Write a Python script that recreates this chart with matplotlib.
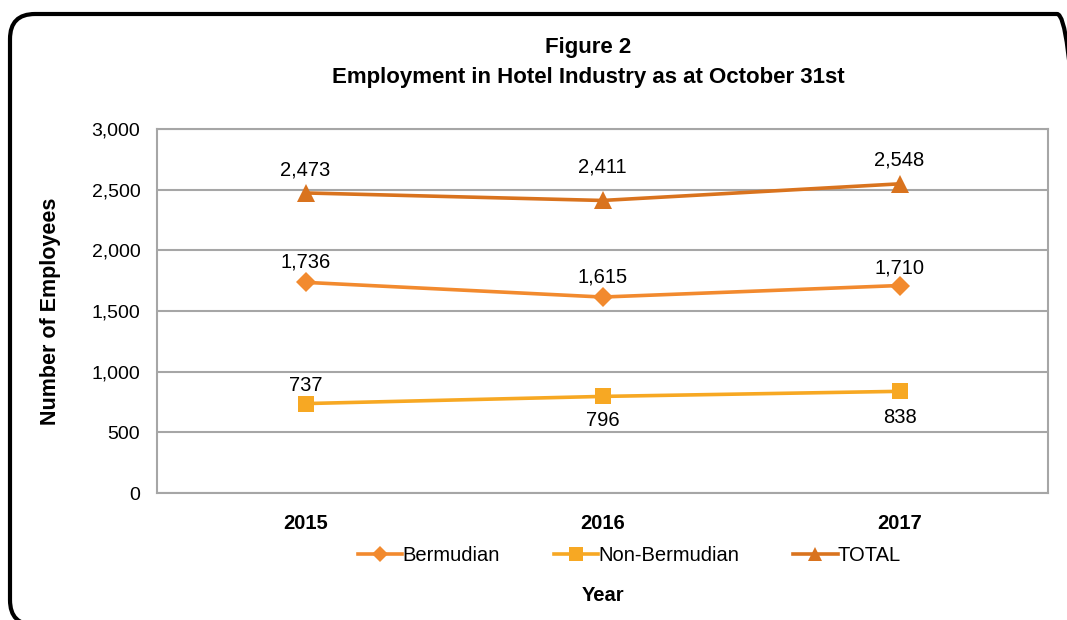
import numpy as np
import matplotlib.pyplot as plt
from matplotlib.patches import FancyBboxPatch

plt.rcParams['font.family'] = ['Liberation Sans', 'DejaVu Sans']

years = ["2015", "2016", "2017"]
bermudian = [1736, 1615, 1710]
non_bermudian = [737, 796, 838]
total = [2473, 2411, 2548]

series_names = ["Bermudian", "Non-Bermudian", "TOTAL"]
series_colors = ["#F28A2E", "#F7A823", "#D9731E"]
series_markers = ["D", "s", "^"]
series_sizes = [10, 11.5, 12.5]
# data label offsets in points (positive = above the point, negative = below)
label_offsets = [[8, 7.5, 5.5], [6, -10.5, -12], [10, 17, 10]]


def main():
    fig = plt.figure(figsize=(10.67, 6.2), dpi=100)

    # rounded frame around the chart, in inches (runs off the right and bottom edges)
    frame = FancyBboxPatch((0.10, -0.05), 10.72, 6.11,
                           boxstyle="round,pad=0,rounding_size=0.25",
                           transform=fig.dpi_scale_trans, fill=False,
                           edgecolor="black", linewidth=3.0)
    fig.patches.append(frame)

    ax = fig.add_axes([157 / 1067, 127 / 620, 891 / 1067, 364 / 620])

    x = np.arange(len(years))
    data = [bermudian, non_bermudian, total]
    for i in range(len(data)):
        ax.plot(x, data[i], color=series_colors[i], marker=series_markers[i],
                markersize=series_sizes[i], linewidth=2.6, label=series_names[i],
                markeredgewidth=0, zorder=3)
        for j in range(len(x)):
            off = label_offsets[i][j]
            ax.annotate(f"{data[i][j]:,}", (x[j], data[i][j]), xytext=(0, off),
                        textcoords="offset points", ha="center",
                        va="bottom" if off > 0 else "top", fontsize=14.5)

    ax.set_xlim(-0.5, 2.5)
    ax.set_ylim(0, 3000)
    ax.set_yticks(np.arange(0, 3001, 500))
    ax.set_yticklabels([f"{v:,}" for v in range(0, 3001, 500)], fontsize=14)
    ax.set_xticks(x)
    ax.set_xticklabels(years, fontsize=14.5, fontweight="bold")
    ax.tick_params(length=0, pad=12)
    ax.tick_params(axis="x", pad=15)
    ax.grid(axis="y", color="#A6A6A6", linewidth=1.5)
    ax.set_axisbelow(True)
    for s in ax.spines.values():
        s.set_color("#A6A6A6")
        s.set_linewidth(1.5)

    ax.set_ylabel("Number of Employees", fontsize=15.5, fontweight="bold", labelpad=22)
    ax.set_xlabel("Year", fontsize=14.5, fontweight="bold", labelpad=38)

    fig.text(0.551, 1 - 48 / 620, "Figure 2", ha="center", va="center",
             fontsize=16, fontweight="bold")
    fig.text(0.551, 1 - 78 / 620, "Employment in Hotel Industry as at October 31st",
             ha="center", va="center", fontsize=16, fontweight="bold")

    ax.legend(loc="center", bbox_to_anchor=(0.53, -0.172), ncol=3, frameon=False,
              fontsize=14.5, handlelength=2.2, handletextpad=0.0, columnspacing=2.7,
              markerscale=0.85)

    fig.savefig("out.png", dpi=100)


if __name__ == "__main__":
    main()
